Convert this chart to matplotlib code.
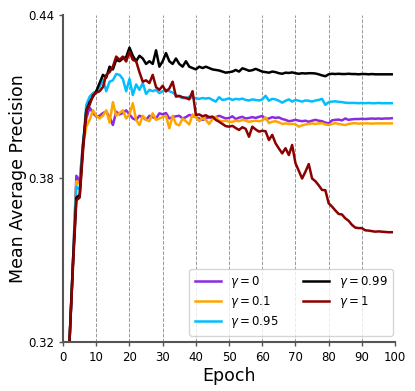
import matplotlib

matplotlib.use("Agg")

import numpy as np
import matplotlib.pyplot as plt

epochs = np.arange(1, 100)

# gamma = 0
map_g0 = [
    0.290, 0.322, 0.350, 0.381, 0.379, 0.393, 0.402, 0.406, 0.404, 0.4027,
    0.403, 0.404, 0.4045, 0.4025, 0.3996, 0.4045, 0.4035, 0.404, 0.405, 0.4035,
    0.402, 0.4015, 0.403, 0.4025, 0.4015, 0.403, 0.4025, 0.402, 0.4039, 0.4035,
    0.404, 0.402, 0.4025, 0.4028, 0.403, 0.402, 0.4025, 0.4033, 0.403, 0.4025,
    0.402, 0.4015, 0.402, 0.4025, 0.402, 0.4025, 0.403, 0.4025, 0.402, 0.4022,
    0.4028, 0.4018, 0.4023, 0.4026, 0.402, 0.4022, 0.4025, 0.4022, 0.4026, 0.4029,
    0.4018, 0.402, 0.4025, 0.4022, 0.4024, 0.4018, 0.4015, 0.401, 0.4012, 0.4015,
    0.4012, 0.401, 0.4012, 0.4008, 0.4012, 0.4015, 0.4012, 0.401, 0.4005, 0.4002,
    0.4013, 0.4015, 0.4016, 0.4013, 0.402, 0.4015, 0.4017, 0.4018, 0.4018, 0.4019,
    0.4018, 0.4019, 0.402, 0.4019, 0.402, 0.4019, 0.402, 0.402, 0.4021,
]

# gamma = 0.1
map_g01 = [
    0.290, 0.322, 0.350, 0.379, 0.378, 0.392, 0.399, 0.4015, 0.405, 0.403,
    0.402, 0.403, 0.405, 0.4005, 0.408, 0.403, 0.404, 0.405, 0.402, 0.4035,
    0.4076, 0.4015, 0.3996, 0.403, 0.4015, 0.401, 0.4039, 0.4015, 0.402, 0.4025,
    0.403, 0.3984, 0.403, 0.400, 0.3995, 0.402, 0.401, 0.3998, 0.4035, 0.4025,
    0.401, 0.4022, 0.4015, 0.400, 0.4018, 0.4025, 0.4012, 0.401, 0.4012, 0.4008,
    0.4008, 0.4012, 0.401, 0.4015, 0.4012, 0.4008, 0.401, 0.4012, 0.401, 0.4012,
    0.4024, 0.4003, 0.4008, 0.401, 0.4006, 0.400, 0.4002, 0.400, 0.400, 0.3999,
    0.399, 0.3995, 0.3998, 0.400, 0.4002, 0.400, 0.4002, 0.4003, 0.3998, 0.3996,
    0.400, 0.4003, 0.400, 0.3998, 0.3996, 0.400, 0.4002, 0.4003, 0.4001, 0.4002,
    0.4002, 0.4002, 0.4001, 0.4002, 0.4002, 0.4002, 0.4002, 0.4002, 0.4002,
]

# gamma = 0.95
map_g095 = [
    0.290, 0.322, 0.350, 0.377, 0.376, 0.392, 0.407, 0.410, 0.4113, 0.412,
    0.4135, 0.4165, 0.412, 0.4155, 0.416, 0.4183, 0.418, 0.4165, 0.412, 0.4165,
    0.4106, 0.4145, 0.4125, 0.415, 0.411, 0.4125, 0.412, 0.4125, 0.4113, 0.412,
    0.4125, 0.412, 0.4115, 0.4106, 0.410, 0.4095, 0.4094, 0.410, 0.4096, 0.4094,
    0.4092, 0.4095, 0.4093, 0.4095, 0.4088, 0.4082, 0.4098, 0.4088, 0.409, 0.4094,
    0.4088, 0.4092, 0.409, 0.4093, 0.4088, 0.4086, 0.409, 0.4088, 0.4086, 0.409,
    0.4103, 0.4085, 0.4092, 0.409, 0.4085, 0.4078, 0.4085, 0.409, 0.4082, 0.4088,
    0.4085, 0.4082, 0.4086, 0.4085, 0.4082, 0.4086, 0.4088, 0.4092, 0.407, 0.408,
    0.4082, 0.4083, 0.4081, 0.408, 0.4078, 0.4077, 0.4077, 0.4077, 0.4076, 0.4077,
    0.4076, 0.4077, 0.4076, 0.4076, 0.4077, 0.4076, 0.4076, 0.4076, 0.4076,
]

# gamma = 0.99
map_g099 = [
    0.290, 0.322, 0.350, 0.373, 0.374, 0.392, 0.405, 0.408, 0.410, 0.412,
    0.415, 0.418, 0.417, 0.421, 0.420, 0.4235, 0.423, 0.424, 0.4245, 0.428,
    0.425, 0.423, 0.425, 0.424, 0.422, 0.423, 0.422, 0.427, 0.421, 0.423,
    0.426, 0.423, 0.422, 0.424, 0.422, 0.421, 0.423, 0.421, 0.4205, 0.420,
    0.421, 0.4205, 0.421, 0.4205, 0.420, 0.4198, 0.4196, 0.4192, 0.4188, 0.419,
    0.4192, 0.4198, 0.4192, 0.4204, 0.420, 0.4195, 0.4197, 0.4202, 0.4197, 0.4192,
    0.419, 0.4188, 0.4192, 0.419, 0.4186, 0.4184, 0.4188, 0.4187, 0.4189, 0.4186,
    0.4184, 0.4186, 0.4185, 0.4186, 0.4186, 0.4185, 0.4182, 0.4178, 0.4175, 0.4182,
    0.4184, 0.4183, 0.4184, 0.4183, 0.4183, 0.4184, 0.4183, 0.4183, 0.4182, 0.4183,
    0.4183, 0.4182, 0.4183, 0.4182, 0.4182, 0.4182, 0.4182, 0.4182, 0.4182,
]

# gamma = 1
map_g1 = [
    0.290, 0.322, 0.348, 0.372, 0.373, 0.390, 0.405, 0.407, 0.4106, 0.4115,
    0.412, 0.4135, 0.418, 0.419, 0.421, 0.4247, 0.4235, 0.4247, 0.4229, 0.4265,
    0.4235, 0.423, 0.419, 0.4155, 0.416, 0.415, 0.418, 0.4135, 0.4125, 0.414,
    0.4119, 0.413, 0.4155, 0.410, 0.4103, 0.4098, 0.4096, 0.409, 0.412, 0.4033,
    0.4035, 0.4028, 0.4032, 0.4025, 0.4027, 0.4015, 0.4008, 0.400, 0.3992, 0.399,
    0.3993, 0.3985, 0.3978, 0.3988, 0.3982, 0.3953, 0.399, 0.398, 0.3972, 0.3975,
    0.3973, 0.3941, 0.396, 0.3929, 0.391, 0.3892, 0.3911, 0.3886, 0.3923, 0.3856,
    0.3828, 0.380, 0.3825, 0.3853, 0.380, 0.379, 0.3775, 0.3758, 0.3757, 0.3709,
    0.3697, 0.3683, 0.367, 0.3668, 0.3654, 0.3645, 0.363, 0.362, 0.3618, 0.3618,
    0.361, 0.3609, 0.3607, 0.3605, 0.3606, 0.3605, 0.3604, 0.3603, 0.3603,
]

labels = [r"$\gamma = 0$", r"$\gamma = 0.1$", r"$\gamma = 0.95$", r"$\gamma = 0.99$", r"$\gamma = 1$"]
colors = ["#8A2BE2", "#FFA500", "#00BFFF", "#000000", "#8B0000"]
series = [map_g0, map_g01, map_g095, map_g099, map_g1]

fig = plt.figure(figsize=(4.15, 3.91), dpi=100)
ax = fig.add_axes([0.152, 0.125, 0.8, 0.837])

for vals, lab, col in zip(series, labels, colors):
    ax.plot(epochs, vals, color=col, linewidth=1.8, label=lab)

ax.set_xlim(0, 100)
ax.set_ylim(0.32, 0.44)
ax.set_xticks(np.arange(0, 101, 10))
ax.set_yticks([0.32, 0.38, 0.44])
ax.tick_params(labelsize=8.5, color="#555555", width=1.0, length=3)

for x in range(10, 101, 10):
    ax.axvline(x, color="#999999", linestyle="--", linewidth=0.7, zorder=0)

for side in ("top", "right"):
    ax.spines[side].set_visible(False)
for side in ("left", "bottom"):
    ax.spines[side].set_color("#555555")
    ax.spines[side].set_linewidth(1.5)

ax.set_xlabel("Epoch", fontsize=12.5, labelpad=2)
ax.set_ylabel("Mean Average Precision", fontsize=12.5, labelpad=1)

ax.legend(loc="lower right", ncol=2, fontsize=8.5, frameon=True, edgecolor="#cccccc",
          handlelength=2.2, columnspacing=2.1, borderpad=0.45, labelspacing=0.35,
          borderaxespad=0.2, bbox_to_anchor=(1.0, 0.013))

fig.savefig("out.png", dpi=100)
